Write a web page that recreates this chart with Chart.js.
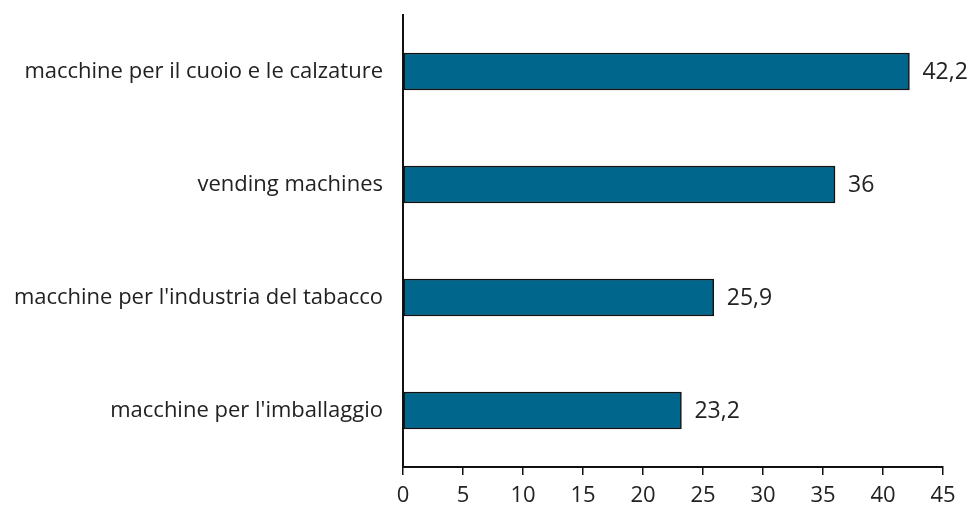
<!DOCTYPE html>
<html lang="it">
<head>
  <meta charset="UTF-8" />
  <title>Macchine</title>
  <script src="https://cdn.jsdelivr.net/npm/chart.js"></script>
  <style>
    html, body { margin: 0; padding: 0; background: #fff; }
    #wrap { width: 973px; height: 507px; }
  </style>
</head>
<body>
  <div id="wrap"><canvas id="grafico" width="973" height="507"></canvas></div>

  <script>
    const categorie = [
      'macchine per il cuoio e le calzature',
      'vending machines',
      "macchine per l'industria del tabacco",
      "macchine per l'imballaggio"
    ];
    const valori = [42.2, 36, 25.9, 23.2];
    const etichette = ['42,2', '36', '25,9', '23,2'];

    const FONT = "'Open Sans', 'Noto Sans', sans-serif";

    // scrive i valori a destra delle barre
    const etichettePlugin = {
      id: 'etichette',
      afterDatasetsDraw(chart) {
        const c = chart.ctx;
        const meta = chart.getDatasetMeta(0);
        c.save();
        c.font = '23px ' + FONT;
        c.fillStyle = '#222';
        c.textAlign = 'left';
        c.textBaseline = 'middle';
        meta.data.forEach((bar, i) => {
          c.fillText(etichette[i], bar.x + 13, bar.y + 1);
        });
        c.restore();
      }
    };

    const ctx = document.getElementById('grafico').getContext('2d');
    new Chart(ctx, {
      type: 'bar',
      data: {
        labels: categorie,
        datasets: [{
          data: valori,
          backgroundColor: '#00668c',
          borderColor: '#111',
          borderWidth: 1.5,
          borderSkipped: false,
          barThickness: 37
        }]
      },
      options: {
        indexAxis: 'y',
        responsive: false,
        animation: false,
        layout: { padding: { top: 15, right: 30, left: 0, bottom: 0 } },
        plugins: { legend: { display: false }, tooltip: { enabled: false } },
        scales: {
          x: {
            min: 0, max: 45,
            ticks: { stepSize: 5, color: '#222', font: { family: FONT, size: 22 }, padding: 8 },
            grid: { display: true, drawOnChartArea: false, drawTicks: true, tickLength: 8, color: '#111', lineWidth: 1.5 },
            border: { display: true, color: '#111', width: 2 },
            afterFit(s) { s.height = 40; }
          },
          y: {
            ticks: { color: '#222', font: { family: FONT, size: 22 }, padding: 20 },
            grid: { display: false, drawTicks: false },
            border: { display: true, color: '#111', width: 2 },
            afterFit(s) { s.width = 403; s.paddingTop = 0; s.paddingBottom = 0; }
          }
        }
      },
      plugins: [etichettePlugin]
    });
  </script>
</body>
</html>
